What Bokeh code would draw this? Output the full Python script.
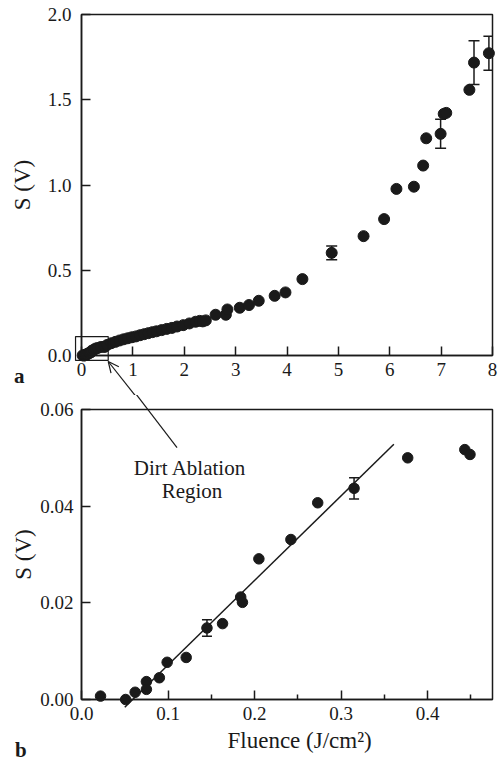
from bokeh.plotting import figure
from bokeh.layouts import column
from bokeh.models import (ColumnDataSource, Whisker, TeeHead, Label, Range1d,
                          FixedTicker, Title, PrintfTickFormatter)
from bokeh.core.properties import value
from bokeh.embed import file_html
from bokeh.resources import INLINE

# ---- data: low-fluence (dirt ablation) region ----
low_x = [0.022, 0.051, 0.062, 0.075, 0.075, 0.090, 0.099, 0.121, 0.145, 0.163,
         0.184, 0.186, 0.205, 0.242, 0.273, 0.315, 0.377, 0.443, 0.449]
low_y = [0.0007, 0.0000, 0.0015, 0.0037, 0.0021, 0.0045, 0.0077, 0.0087, 0.0148, 0.0157,
         0.0212, 0.0201, 0.0291, 0.0331, 0.0407, 0.0437, 0.0500, 0.0517, 0.0507]
low_err_x = [0.145, 0.315]
low_err_y = [0.0148, 0.0437]
low_err = [0.0017, 0.0022]
low_xerr = [0.0, 0.004]
fit_x = [0.050, 0.361]
fit_y = [-0.0016, 0.0528]

# ---- data: full fluence range ----
high_x = [0.50, 0.58, 0.66, 0.74, 0.82, 0.90, 0.98, 1.06, 1.14, 1.22, 1.30, 1.38,
          1.46, 1.56, 1.66, 1.76, 1.86, 1.98, 2.10, 2.22, 2.30, 2.36, 2.42,
          2.61, 2.81, 2.84, 3.08, 3.26, 3.45, 3.76, 3.97, 4.30, 4.87, 5.49, 5.89,
          6.13, 6.47, 6.65, 6.71, 6.99, 7.05, 7.10, 7.55, 7.64, 7.93]
high_y = [0.062, 0.072, 0.080, 0.088, 0.095, 0.101, 0.107, 0.112, 0.119, 0.125, 0.131, 0.137,
          0.142, 0.149, 0.156, 0.162, 0.170, 0.178, 0.188, 0.198, 0.203, 0.200, 0.206,
          0.239, 0.239, 0.270, 0.280, 0.296, 0.321, 0.350, 0.370, 0.448, 0.602, 0.700, 0.800,
          0.977, 0.990, 1.114, 1.274, 1.300, 1.417, 1.423, 1.558, 1.718, 1.773]
top_err_x = [4.87, 6.99, 7.64, 7.93]
top_err_y = [0.602, 1.300, 1.718, 1.773]
top_err = [0.040, 0.085, 0.128, 0.100]

top_x = low_x + high_x
top_y = low_y + high_y

top_xticks = [0, 1, 2, 3, 4, 5, 6, 7, 8]
top_yticks = [0.0, 0.5, 1.0, 1.5, 2.0]
bot_xticks = [0.0, 0.1, 0.2, 0.3, 0.4]
bot_xminor = [0.05, 0.15, 0.25, 0.35, 0.45]
bot_yticks = [0.00, 0.02, 0.04, 0.06]

# annotation geometry (zoom box around the low-fluence region, arrow to label)
box_lrbt = [-0.116, 0.52, -0.029, 0.111]
arrow_top_x = [1.122, 0.5205]
arrow_top_y = [-0.264, -0.0352]
head_xs = [[0.5744, 0.5205, 0.7267]]
head_ys = [[-0.1038, -0.0352, -0.0663]]
arrow_bot_x = [0.060, 0.1104]
arrow_bot_y = [0.0639, 0.0521]

FONT = "Liberation Serif"
INK = "#1a1a1a"


def style(p):
    p.outline_line_color = INK
    p.outline_line_width = 1.5
    p.xgrid.visible = False
    p.ygrid.visible = False
    for ax in (p.xaxis[0], p.yaxis[0]):
        ax.axis_line_color = INK
        ax.axis_line_width = 1.5
        ax.major_tick_in = 9
        ax.major_tick_out = 0
        ax.minor_tick_in = 0
        ax.minor_tick_out = 0
        ax.major_tick_line_color = INK
        ax.major_tick_line_width = 1.5
        ax.minor_tick_line_color = INK
        ax.minor_tick_line_width = 1.5
        ax.major_label_text_font = FONT
        ax.major_label_text_font_size = "19px"
        ax.major_label_text_color = INK
        ax.axis_label_text_font = FONT
        ax.axis_label_text_font_size = "23px"
        ax.axis_label_text_font_style = "normal"
        ax.axis_label_text_color = INK


# ---------------- top panel ----------------
p1 = figure(width=498, height=395, output_backend="svg", toolbar_location=None,
            x_range=Range1d(0, 8), y_range=Range1d(0, 2.0),
            min_border_left=81, min_border_right=2, min_border_top=14, min_border_bottom=40)
style(p1)
p1.xaxis[0].major_label_standoff = 7
p1.yaxis[0].major_label_standoff = 10
p1.yaxis[0].axis_label_standoff = 10
p1.yaxis[0].axis_label = "S (V)"
p1.xaxis[0].ticker = FixedTicker(ticks=top_xticks)
p1.yaxis[0].ticker = FixedTicker(ticks=top_yticks)
p1.xaxis[0].formatter = PrintfTickFormatter(format="%d")
p1.yaxis[0].formatter = PrintfTickFormatter(format="%.1f")

src_top_err = ColumnDataSource(dict(
    x=top_err_x,
    upper=[y + e for y, e in zip(top_err_y, top_err)],
    lower=[y - e for y, e in zip(top_err_y, top_err)]))
p1.add_layout(Whisker(source=src_top_err, base="x", upper="upper", lower="lower",
                      line_color=INK, line_width=1.5,
                      upper_head=TeeHead(size=11, line_color=INK, line_width=1.5),
                      lower_head=TeeHead(size=11, line_color=INK, line_width=1.5)))
p1.scatter(top_x, top_y, marker="circle", size=11, fill_color=INK, line_color=INK,
           level="overlay")

p1.quad(left=[box_lrbt[0]], right=[box_lrbt[1]], bottom=[box_lrbt[2]], top=[box_lrbt[3]],
        fill_color=None, line_color=INK, line_width=1.2, level="overlay")
p1.line(arrow_top_x, arrow_top_y, line_color=INK, line_width=1.2, level="overlay")
p1.multi_line(head_xs, head_ys, line_color=INK, line_width=1.2, level="overlay")
p1.text(x=[-1.214], y=[-0.123], text=["a"], text_font=value(FONT), text_font_size="21px",
        text_font_style="bold", text_align="center", text_baseline="middle",
        text_color=INK, level="overlay")

# ---------------- bottom panel ----------------
p2 = figure(width=498, height=366, output_backend="svg", toolbar_location=None,
            x_range=Range1d(0, 0.475), y_range=Range1d(0, 0.06),
            min_border_left=79, min_border_right=6, min_border_top=14, min_border_bottom=62)
style(p2)
p2.xaxis[0].major_label_standoff = 7
p2.yaxis[0].major_label_standoff = 8
p2.yaxis[0].axis_label_standoff = 1
p2.yaxis[0].axis_label = "S (V)"
p2.xaxis[0].ticker = FixedTicker(ticks=bot_xticks, minor_ticks=bot_xminor)
p2.xaxis[0].minor_tick_in = 5
p2.yaxis[0].ticker = FixedTicker(ticks=bot_yticks)
p2.xaxis[0].formatter = PrintfTickFormatter(format="%.1f")
p2.yaxis[0].formatter = PrintfTickFormatter(format="%.2f")

p2.line(fit_x, fit_y, line_color=INK, line_width=1.5, level="overlay")
src_low_err = ColumnDataSource(dict(
    x=low_err_x, y=low_err_y,
    upper=[y + e for y, e in zip(low_err_y, low_err)],
    lower=[y - e for y, e in zip(low_err_y, low_err)],
    right=[x + e for x, e in zip(low_err_x, low_xerr)],
    left=[x - e for x, e in zip(low_err_x, low_xerr)]))
p2.add_layout(Whisker(source=src_low_err, base="x", upper="upper", lower="lower",
                      line_color=INK, line_width=1.5,
                      upper_head=TeeHead(size=10, line_color=INK, line_width=1.5),
                      lower_head=TeeHead(size=10, line_color=INK, line_width=1.5)))
p2.add_layout(Whisker(source=src_low_err, base="y", upper="right", lower="left",
                      dimension="width", line_color=INK, line_width=1.5,
                      upper_head=TeeHead(size=8, line_color=INK, line_width=1.5),
                      lower_head=TeeHead(size=8, line_color=INK, line_width=1.5)))
p2.scatter(low_x, low_y, marker="circle", size=10.5, fill_color=INK, line_color=INK,
           level="overlay")

p2.line(arrow_bot_x, arrow_bot_y, line_color=INK, line_width=1.2, level="overlay")
p2.add_layout(Label(x=0.1254, y=0.0478, text="Dirt Ablation", text_font=FONT,
                    text_font_size="21px", text_align="center", text_baseline="middle",
                    text_color=INK))
p2.add_layout(Label(x=0.1277, y=0.0432, text="Region", text_font=FONT,
                    text_font_size="21px", text_align="center", text_baseline="middle",
                    text_color=INK))
p2.text(x=[-0.0701], y=[-0.01055], text=["b"], text_font=value(FONT), text_font_size="21px",
        text_font_style="bold", text_align="center", text_baseline="middle",
        text_color=INK, level="overlay")
p2.add_layout(Title(text="Fluence (J/cm²)", align="left", offset=146, standoff=6,
                    text_font=FONT, text_font_size="23px", text_font_style="normal",
                    text_color=INK), "below")

layout = column(p1, p2, spacing=0)
open("out.html", "w").write(file_html(layout, INLINE))
